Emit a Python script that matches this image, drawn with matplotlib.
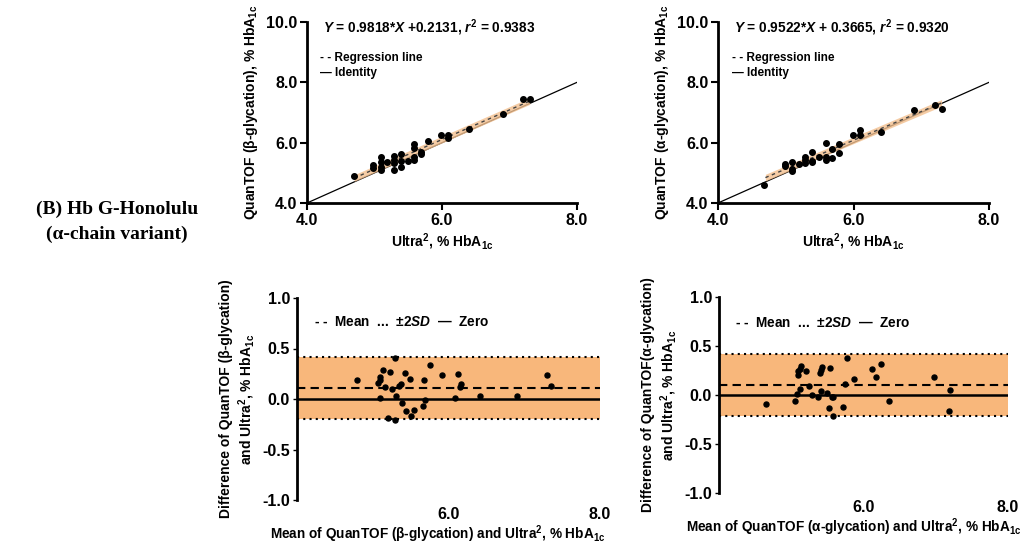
import matplotlib.pyplot as plt
import numpy as np

plt.rcParams["font.family"] = ["Liberation Sans", "DejaVu Sans"]
plt.rcParams["font.weight"] = "bold"
plt.rcParams["axes.labelweight"] = "bold"
plt.rcParams["mathtext.fontset"] = "custom"
plt.rcParams["mathtext.rm"] = "Liberation Sans:bold"
plt.rcParams["mathtext.bf"] = "Liberation Sans:bold"
plt.rcParams["mathtext.it"] = "Liberation Sans:bold:italic"
plt.rcParams["mathtext.default"] = "bf"

# Ultra2 vs QuanTOF (beta-glycation)
betaX = [4.70, 4.98, 4.98, 5.09, 5.09, 5.09, 5.09, 5.19, 5.29, 5.29, 5.29, 5.29,
         5.39, 5.39, 5.39, 5.49, 5.59, 5.59, 5.59, 5.59, 5.69, 5.69, 5.79, 5.99,
         6.09, 6.09, 6.40, 6.91, 7.20, 7.30]
betaY = [4.89, 5.25, 5.17, 5.51, 5.36, 5.18, 5.11, 5.36, 5.55, 5.44, 5.33, 5.11,
         5.62, 5.38, 5.18, 5.39, 5.95, 5.81, 5.51, 5.44, 5.70, 5.64, 6.05, 6.27,
         6.25, 6.14, 6.45, 6.95, 7.45, 7.45]

# Ultra2 vs QuanTOF (alpha-glycation)
alphaX = [4.68, 4.99, 4.99, 5.09, 5.09, 5.09, 5.20, 5.29, 5.29, 5.29, 5.39, 5.39,
          5.39, 5.49, 5.59, 5.59, 5.59, 5.69, 5.69, 5.79, 5.79, 5.99, 6.09, 6.09,
          6.40, 6.90, 7.20, 7.30]
alphaY = [4.60, 5.30, 5.21, 5.35, 5.13, 5.05, 5.30, 5.54, 5.43, 5.31, 5.68, 5.40,
          5.35, 5.51, 5.98, 5.51, 5.43, 5.79, 5.48, 5.96, 5.66, 6.27, 6.43, 6.27,
          6.35, 7.09, 7.26, 7.12]

# regression fits (slope, intercept) and fitted range
betaFit = (0.9818, 0.2131)
alphaFit = (0.9522, 0.3665)
fitRange = (4.7, 7.3)
bandHalf = 0.11

# Bland-Altman, beta
baBetaMean = [4.79, 5.07, 5.09, 5.10, 5.14, 5.16, 5.10, 5.20, 5.23, 5.25, 5.29, 5.30,
              5.31, 5.35, 5.37, 5.38, 5.43, 5.44, 5.49, 5.51, 5.54, 5.66, 5.68, 5.69,
              5.76, 5.92, 6.09, 6.12, 6.15, 6.17, 6.41, 6.90, 7.30, 7.35]
baBetaDiff = [0.185, 0.16, 0.19, 0.22, 0.29, 0.12, 0.01, -0.19, 0.27, 0.10, -0.21, 0.41,
              0.03, 0.13, 0.15, -0.04, 0.26, -0.12, 0.20, -0.17, -0.11, -0.07, 0.185, -0.01,
              0.34, 0.24, 0.01, 0.25, 0.12, 0.145, 0.03, 0.03, 0.24, 0.13]
baBetaLines = (0.11, 0.42, -0.20)  # mean, +2SD, -2SD

# Bland-Altman, alpha
baAlphaMean = [4.65, 5.05, 5.08, 5.09, 5.10, 5.12, 5.14, 5.12, 5.20, 5.24, 5.29, 5.37,
               5.40, 5.41, 5.43, 5.41, 5.49, 5.53, 5.52, 5.56, 5.58, 5.58, 5.72, 5.75,
               5.77, 5.87, 6.12, 6.17, 6.24, 6.35, 6.97, 7.20, 7.19]
baAlphaDiff = [-0.09, -0.065, 0.01, 0.20, 0.24, 0.27, 0.30, 0.06, 0.25, 0.09, 0.00, -0.02,
               0.22, 0.26, 0.29, 0.045, 0.02, 0.28, -0.13, -0.02, -0.025, -0.21, -0.12, 0.11,
               0.38, 0.16, 0.27, 0.18, 0.32, -0.065, 0.18, 0.05, -0.16]
baAlphaLines = (0.10, 0.42, -0.21)

W, H = 1035, 547
fig = plt.figure(figsize=(W / 100, H / 100), dpi=100)


def box(l, t, r, b):
    return [l / W, 1 - b / H, (r - l) / W, (b - t) / H]


def scatterPanel(ax, x, y, fit, eq, ylab):
    for s in ["top", "right"]:
        ax.spines[s].set_visible(False)
    for s in ["left", "bottom"]:
        ax.spines[s].set_linewidth(2)
    ax.tick_params(width=1.5, length=5, labelsize=11.5, pad=2)
    ax.set_xlim(4, 8)
    ax.set_ylim(4, 10)
    ax.set_xticks([4, 6, 8])
    ax.set_yticks([4, 6, 8, 10])
    ax.xaxis.set_major_formatter(plt.FormatStrFormatter("%.1f"))
    ax.yaxis.set_major_formatter(plt.FormatStrFormatter("%.1f"))
    ax.plot([4, 8], [4, 8], color="black", linewidth=0.9, zorder=1)
    xs = np.linspace(fitRange[0], fitRange[1], 50)
    ys = fit[0] * xs + fit[1]
    ax.fill_between(xs, ys - bandHalf, ys + bandHalf, color="#f3c08f", alpha=0.8,
                    linewidth=0, zorder=2)
    ax.plot(xs, ys, color="#444444", linestyle=(0, (2.5, 2.5)), linewidth=1.0, zorder=3)
    ax.scatter(x, y, s=16, color="black", zorder=4)
    ax.text(0.06, 0.97, eq, transform=ax.transAxes, fontsize=9.8, va="center")
    ax.text(0.05, 0.80, "- - Regression line", transform=ax.transAxes, fontsize=8.5,
            va="center")
    ax.text(0.05, 0.72, "\u2014 Identity", transform=ax.transAxes, fontsize=8.5,
            va="center")
    ax.set_xlabel(r"Ultra$^{2}$, % HbA$_{1c}$", fontsize=10, labelpad=3)
    ax.set_ylabel(ylab, fontsize=10, labelpad=4)


def baPanel(ax, m, d, lines, xlab, ylab, legY):
    for s in ["top", "right", "bottom"]:
        ax.spines[s].set_visible(False)
    ax.spines["left"].set_linewidth(2)
    ax.tick_params(axis="y", width=1, length=3, labelsize=11.5, pad=2)
    ax.tick_params(axis="x", length=0, labelsize=11.5, pad=5)
    ax.set_xlim(4, 8)
    ax.set_ylim(-1, 1)
    ax.set_xticks([6, 8])
    ax.set_yticks([-1, -0.5, 0, 0.5, 1])
    ax.xaxis.set_major_formatter(plt.FormatStrFormatter("%.1f"))
    ax.yaxis.set_major_formatter(plt.FormatStrFormatter("%.1f"))
    mean, up, lo = lines
    ax.axhspan(lo, up, color="#f8b77b", linewidth=0, zorder=0)
    ax.axhline(up, color="black", linestyle=(0, (1, 2)), linewidth=1.5)
    ax.axhline(lo, color="black", linestyle=(0, (1, 2)), linewidth=1.5)
    ax.axhline(mean, color="black", linestyle=(0, (4, 2.5)), linewidth=1.5)
    ax.axhline(0, color="black", linewidth=1.8)
    ax.scatter(m, d, s=13, color="black", zorder=4)
    ax.text(0.055, legY, "- -  Mean  ...  \u00b12$\\it{SD}$  \u2014  Zero",
            transform=ax.get_yaxis_transform(), fontsize=9.8, va="center")
    ax.set_xlabel(xlab, fontsize=9.8, labelpad=1)
    ax.xaxis.label.set_x(0.465)
    ax.set_ylabel(ylab, fontsize=10, labelpad=4)


ax1 = fig.add_axes(box(307, 22, 577, 203))
ax2 = fig.add_axes(box(718, 22, 989, 203))
ax3 = fig.add_axes(box(297, 298, 600, 500))
ax4 = fig.add_axes(box(719, 297, 1008, 493))

scatterPanel(ax1, betaX, betaY, betaFit,
             r"$\it{Y}$ = 0.9818*$\it{X}$ +0.2131, $\it{r}^{2}$ = 0.9383",
             "QuanTOF (\u03b2-glycation), % HbA$_{1c}$")
scatterPanel(ax2, alphaX, alphaY, alphaFit,
             r"$\it{Y}$ = 0.9522*$\it{X}$ + 0.3665, $\it{r}^{2}$ = 0.9320",
             "QuanTOF (\u03b1-glycation), % HbA$_{1c}$")

baPanel(ax3, baBetaMean, baBetaDiff, baBetaLines,
        "Mean of QuanTOF (\u03b2-glycation) and Ultra$^{2}$, % HbA$_{1c}$",
        "Difference of QuanTOF (\u03b2-glycation)\nand Ultra$^{2}$, % HbA$_{1c}$", 0.76)
baPanel(ax4, baAlphaMean, baAlphaDiff, baAlphaLines,
        "Mean of QuanTOF (\u03b1-glycation) and Ultra$^{2}$, % HbA$_{1c}$",
        "Difference of QuanTOF(\u03b1-glycation)\nand Ultra$^{2}$, % HbA$_{1c}$", 0.73)

fig.text(117 / W, 1 - 222 / H, "(B) Hb G-Honolulu\n(\u03b1-chain variant)",
         family=["Liberation Serif", "DejaVu Serif"], fontsize=14, weight="bold",
         ha="center", va="center", linespacing=1.6)

fig.savefig("out.png", dpi=100)
